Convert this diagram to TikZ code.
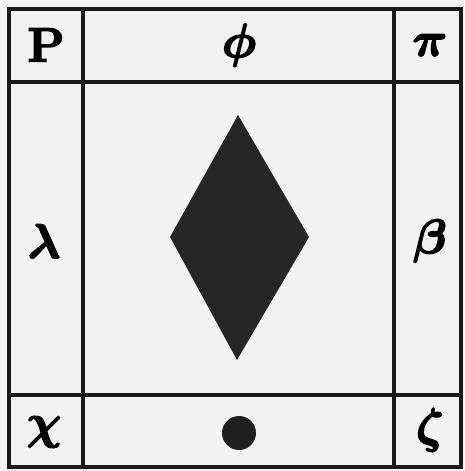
\documentclass[tikz,border=0pt]{standalone}
\usepackage{fix-cm}
\usepackage{amsmath}
\newcommand\heavy[1]{\special{pdf:literal direct 2 Tr 1.6 w}#1\special{pdf:literal direct 0 Tr}}
\begin{document}
\begin{tikzpicture}[x=1pt, y=-1pt,
    sym/.style={font=\fontsize{48}{48}\selectfont, inner sep=0pt},
    rule/.style={line width=3.2pt, black!90}]
  \fill[black!5] (0,0) rectangle (464,471);
  \useasboundingbox (0,0) rectangle (464,471);

  % grid
  \draw[rule] (9,9) rectangle (461,467);
  \draw[rule] (83,9) -- (83,467);
  \draw[rule] (394,9) -- (394,467);
  \draw[rule] (9,82) -- (461,82);
  \draw[rule] (9,395) -- (461,395);

  \node[sym] (P)    at (46,45)   {\heavy{\textbf{P}}};
  \node[sym] (phi)  at (239,45)  {\heavy{$\boldsymbol{\phi}$}};
  \node[sym] (pi)   at (430,45)  {\heavy{$\boldsymbol{\pi}$}};
  \node[sym] (lam)  at (44,241)  {\heavy{$\boldsymbol{\lambda}$}};
  \node[sym] (beta) at (430,241) {\heavy{$\boldsymbol{\beta}$}};
  \node[sym] (chi)  at (44,432)  {\heavy{$\boldsymbol{\chi}$}};
  \node[sym] (zeta) at (430,430) {\heavy{$\boldsymbol{\zeta}$}};

  \fill[black!85] (238,115) -- (309,237) -- (237,360) -- (170,237) -- cycle;
  \fill[black!88] (239,433) circle (17);
\end{tikzpicture}
\end{document}
